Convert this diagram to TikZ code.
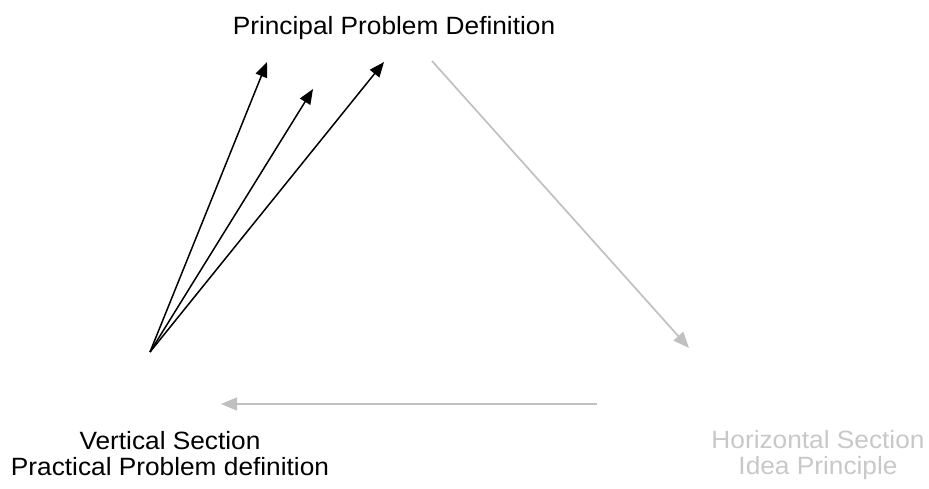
\documentclass[tikz,border=0pt]{standalone}
\usepackage{fontspec}
\usepackage{xcolor}
\usetikzlibrary{arrows.meta}
\newfontfamily\widesans[FakeStretch=1.05]{Liberation Sans}
\definecolor{silverline}{RGB}{192,192,192}
\definecolor{silvertext}{RGB}{200,200,200}
\tikzset{
blackarrow/.style={draw=black, line width=1.5pt, -{Triangle[length=15pt,width=12pt]}},
greyarrow/.style={draw=silverline, line width=1.7pt, -{Triangle[length=16pt,width=13pt]}},
sectionlabel/.style={inner sep=0pt, align=center, anchor=base, font=\widesans\fontsize{25}{26}\selectfont},
}
\begin{document}
\begin{tikzpicture}[x=1pt,y=1pt]
\useasboundingbox (0,0) rectangle (929,-488);
\node[sectionlabel] at (394,-34) (principal) {Principal Problem Definition};
\node[sectionlabel] at (170,-475) (vertical) {Vertical Section\\Practical Problem definition};
\node[sectionlabel, text=silvertext] at (818,-474) (horizontal) {Horizontal Section\\Idea Principle};

\coordinate (v0) at (150,-352);
\coordinate (p1) at (267,-62);
\coordinate (p2) at (313,-89);
\coordinate (p3) at (384,-62);
\draw[blackarrow] (v0)--(p1);
\draw[blackarrow] (v0)--(p2);
\draw[blackarrow] (v0)--(p3);

\coordinate (t0) at (432,-61);
\coordinate (h0) at (689,-348);
\coordinate (h1) at (597,-404);
\coordinate (v1) at (221,-404);
\draw[greyarrow] (t0)--(h0);
\draw[greyarrow] (h1)--(v1);
\end{tikzpicture}
\end{document}
